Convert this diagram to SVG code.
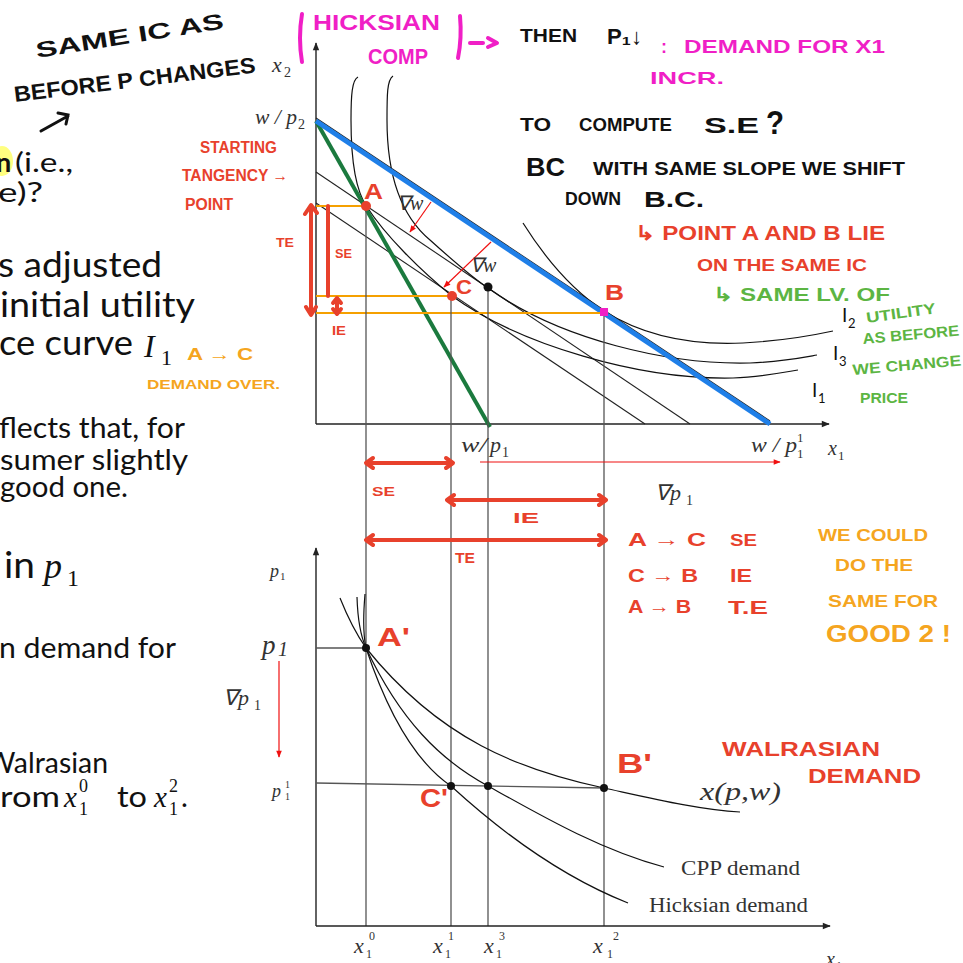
<svg xmlns="http://www.w3.org/2000/svg" width="963" height="963" viewBox="0 0 963 963">
<defs>
<marker id="ax" viewBox="0 0 10 10" refX="9" refY="5" markerWidth="9" markerHeight="8" orient="auto" markerUnits="userSpaceOnUse"><path d="M0,1 L10,5 L0,9 z" fill="#222"/></marker>
<marker id="ra" viewBox="0 0 10 10" refX="9" refY="5" markerWidth="8" markerHeight="7" orient="auto" markerUnits="userSpaceOnUse"><path d="M0,1 L10,5 L0,9 z" fill="#f01010"/></marker>
<style>
.slide{font-family:Lato,"Open Sans","Liberation Sans",sans-serif;fill:#111}
.m{font-family:"Liberation Serif","Times New Roman",serif;font-style:italic;fill:#333}
.mu{font-family:"Liberation Serif","Times New Roman",serif;fill:#333}
.hw{font-family:"Liberation Sans",Arial,sans-serif;font-weight:bold}
.k{fill:#111}.r{fill:#e8412c}.g{fill:#5cb543}.o{fill:#f5a520}.mg{fill:#f01fc6}
.axis{stroke:#222;stroke-width:1.4;fill:none}
.drop{stroke:#555;stroke-width:1.3;fill:none}
.bl{stroke:#222;stroke-width:1.1;fill:none}
.cv{stroke:#111;stroke-width:1.2;fill:none}
.or{stroke:#f5a000;stroke-width:2;fill:none}
.rs{stroke:#e8412c;stroke-width:4;fill:none;stroke-linecap:round;stroke-linejoin:round}
.ms{stroke:#f01fc6;stroke-width:4;fill:none;stroke-linecap:round;stroke-linejoin:round}
.thin-red{stroke:#f01010;stroke-width:1.2;fill:none}
</style>
</defs>
<rect width="963" height="963" fill="#fff"/>

<g id="slide-text">
<ellipse cx="2" cy="161" rx="11" ry="15" fill="#ffff80"/>
<text class="slide" x="-4" y="172" font-size="27" font-weight="bold">n</text>
<text class="slide" x="15" y="172" font-size="27" textLength="58" lengthAdjust="spacingAndGlyphs">(i.e.,</text>
<text class="slide" x="-2" y="202" font-size="27" textLength="45" lengthAdjust="spacingAndGlyphs">e)?</text>
<text class="slide" x="-2" y="277" font-size="35" textLength="164" lengthAdjust="spacingAndGlyphs">s adjusted</text>
<text class="slide" x="0" y="317" font-size="35" textLength="195" lengthAdjust="spacingAndGlyphs">initial utility</text>
<text class="slide" x="-1" y="355" font-size="35" textLength="134" lengthAdjust="spacingAndGlyphs">ce curve</text>
<text x="144" y="357" font-size="32" font-family="Liberation Serif,serif" font-style="italic" fill="#111">I</text>
<text x="161" y="365" font-size="22" font-family="Liberation Serif,serif" fill="#111">1</text>
<text class="slide" x="-1" y="438" font-size="29" textLength="186" lengthAdjust="spacingAndGlyphs">flects that, for</text>
<text class="slide" x="0" y="470" font-size="29" textLength="188" lengthAdjust="spacingAndGlyphs">sumer slightly</text>
<text class="slide" x="0" y="497" font-size="29" textLength="128" lengthAdjust="spacingAndGlyphs">good one.</text>
<text class="slide" x="4" y="578" font-size="36" textLength="31" lengthAdjust="spacingAndGlyphs">in</text>
<text x="44" y="578" font-size="36" font-family="Liberation Serif,serif" font-style="italic" fill="#111">p</text>
<text x="67" y="586" font-size="24" font-family="Liberation Serif,serif" fill="#111">1</text>
<text class="slide" x="-1" y="658" font-size="29" textLength="177" lengthAdjust="spacingAndGlyphs">n demand for</text>
<text class="slide" x="-14" y="773" font-size="29" textLength="122" lengthAdjust="spacingAndGlyphs">Walrasian</text>
<text class="slide" x="0" y="807" font-size="29" textLength="60" lengthAdjust="spacingAndGlyphs">rom</text>
<text x="64" y="807" font-size="29" font-family="Liberation Serif,serif" font-style="italic" fill="#111">x</text>
<text x="79" y="815" font-size="18" font-family="Liberation Serif,serif" fill="#111">1</text>
<text x="79" y="792" font-size="18" font-family="Liberation Serif,serif" fill="#111">0</text>
<text class="slide" x="117" y="807" font-size="29" textLength="30" lengthAdjust="spacingAndGlyphs">to</text>
<text x="154" y="807" font-size="29" font-family="Liberation Serif,serif" font-style="italic" fill="#111">x</text>
<text x="169" y="815" font-size="18" font-family="Liberation Serif,serif" fill="#111">1</text>
<text x="169" y="792" font-size="18" font-family="Liberation Serif,serif" fill="#111">2</text>
<text class="slide" x="181" y="807" font-size="29">.</text>
</g>

<g id="top-graph">
<line class="axis" x1="316" y1="424" x2="316" y2="43" marker-end="url(#ax)"/>
<line class="axis" x1="316" y1="424" x2="829" y2="424" marker-end="url(#ax)"/>
<line class="bl" x1="316" y1="172" x2="690" y2="424"/>
<line class="bl" x1="316" y1="203" x2="645" y2="424"/>
<line class="bl" x1="316" y1="118" x2="770" y2="421"/>
<path id="ic-a" class="cv" d="M358,77 C352,80 351,95 351,120 C351,160 355,190 367,207 C385,235 420,270 452,296 C520,345 640,380 733,378 C760,377 780,373 798,370"/>
<path id="ic-b" class="cv" d="M393,76 C387,80 387,95 387,120 C387,175 400,215 430,240 C450,258 470,276 488,288 C560,340 670,365 750,363 C780,362 800,358 817,355"/>
<path id="ic-c" class="cv" d="M523,223 C545,258 572,290 604,311 C650,340 700,345 743,343 C780,341 810,336 833,331"/>
<line x1="316" y1="121" x2="490" y2="427" stroke="#1b7a3e" stroke-width="4"/>
<line x1="316" y1="121" x2="770" y2="424" stroke="#1f7fe8" stroke-width="5"/>
<line class="or" x1="316" y1="206" x2="366" y2="206"/>
<line class="or" x1="316" y1="296" x2="452" y2="296"/>
<line class="or" x1="316" y1="313" x2="604" y2="313"/>
<line class="drop" x1="366" y1="206" x2="366" y2="926"/>
<line class="drop" x1="451" y1="296" x2="451" y2="926"/>
<line class="drop" x1="488" y1="287" x2="488" y2="926"/>
<line class="drop" x1="604" y1="312" x2="604" y2="926"/>
<line class="thin-red" x1="431" y1="202" x2="410" y2="232" marker-end="url(#ra)"/>
<line class="thin-red" x1="491" y1="242" x2="444" y2="287" marker-end="url(#ra)"/>
<line class="thin-red" x1="480" y1="462" x2="780" y2="462" marker-end="url(#ra)"/>
<circle cx="366" cy="206" r="5" fill="#e8412c"/>
<circle cx="452" cy="296" r="5" fill="#e8412c"/>
<circle cx="488" cy="287" r="4.5" fill="#111"/>
<rect x="600" y="308" width="8" height="8" fill="#f01fc6"/>
<text class="m" x="272" y="72" font-size="22">x</text><text class="mu" x="284" y="77" font-size="14">2</text>
<text class="m" x="255" y="124" font-size="20" textLength="42" lengthAdjust="spacingAndGlyphs">w / p</text><text class="mu" x="298" y="129" font-size="14">2</text>
<text class="m" x="397" y="210" font-size="20" fill="#555">∇w</text>
<text class="m" x="470" y="272" font-size="20" fill="#555">∇w</text>
<text class="m" x="461" y="452" font-size="22" textLength="26" lengthAdjust="spacingAndGlyphs">w/</text>
<text class="m" x="490" y="452" font-size="22">p</text><text class="mu" x="502" y="457" font-size="14">1</text>
<text class="m" x="751" y="452" font-size="21" textLength="46" lengthAdjust="spacingAndGlyphs">w / p</text><text class="mu" x="797" y="458" font-size="13">1</text><text class="mu" x="797" y="442" font-size="13">1</text>
<text class="m" x="828" y="455" font-size="20">x</text><text class="mu" x="838" y="460" font-size="13">1</text>
<text class="m" x="655" y="500" font-size="22">∇p</text><text class="mu" x="686" y="505" font-size="14">1</text>
<text class="slide" x="842" y="322" font-size="19">I</text><text class="slide" x="848" y="328" font-size="13">2</text>
<text class="slide" x="833" y="360" font-size="19">I</text><text class="slide" x="839" y="366" font-size="13">3</text>
<text class="slide" x="812" y="397" font-size="19">I</text><text class="slide" x="818" y="403" font-size="13">1</text>
</g>

<g id="bottom-graph">
<line class="axis" x1="316" y1="926" x2="316" y2="548" marker-end="url(#ax)"/>
<line class="axis" x1="316" y1="926" x2="830" y2="926" marker-end="url(#ax)"/>
<line class="drop" x1="316" y1="648" x2="366" y2="648"/>
<line class="drop" x1="316" y1="783" x2="604" y2="788"/>
<path id="walrasian" class="cv" d="M340,598 Q352,628 366,648 C440,740 520,770 604,788 C650,798 700,810 740,812"/>
<path id="cpp" class="cv" d="M357,597 Q358,630 366,648 C400,720 440,760 488,786 C540,815 600,850 664,867"/>
<path id="hicksian" class="cv" d="M365,594 Q362,630 366,648 C390,720 420,765 451,786 C510,840 570,880 628,903"/>
<circle cx="366" cy="648" r="4" fill="#111"/>
<circle cx="451" cy="786" r="4" fill="#111"/>
<circle cx="488" cy="786" r="4" fill="#111"/>
<circle cx="604" cy="788" r="4" fill="#111"/>
<line class="thin-red" x1="279" y1="661" x2="279" y2="757" marker-end="url(#ra)"/>
<text class="m" x="270" y="577" font-size="18">p</text><text class="mu" x="280" y="580" font-size="11">1</text>
<text class="m" x="262" y="654" font-size="27">p</text><text class="m" x="278" y="656" font-size="20">1</text>
<text class="m" x="223" y="705" font-size="22">∇p</text><text class="mu" x="254" y="710" font-size="14">1</text>
<text class="m" x="272" y="797" font-size="18" fill="#666">p</text><text class="mu" x="285" y="800" font-size="10" fill="#666">1</text><text class="mu" x="285" y="788" font-size="10" fill="#666">1</text>
<text class="m" x="700" y="800" font-size="26" textLength="81" lengthAdjust="spacingAndGlyphs">x(p,w)</text>
<text class="mu" x="681" y="875" font-size="20" textLength="119" lengthAdjust="spacingAndGlyphs">CPP demand</text>
<text class="mu" x="649" y="912" font-size="20" textLength="159" lengthAdjust="spacingAndGlyphs">Hicksian demand</text>
<text class="m" x="354" y="953" font-size="22">x</text><text class="mu" x="366" y="958" font-size="12">1</text><text class="mu" x="369" y="940" font-size="12">0</text>
<text class="m" x="433" y="953" font-size="22">x</text><text class="mu" x="445" y="958" font-size="12">1</text><text class="mu" x="448" y="940" font-size="12">1</text>
<text class="m" x="484" y="953" font-size="22">x</text><text class="mu" x="496" y="958" font-size="12">1</text><text class="mu" x="499" y="940" font-size="12">3</text>
<text class="m" x="593" y="953" font-size="22">x</text><text class="mu" x="607" y="958" font-size="12">1</text><text class="mu" x="613" y="940" font-size="12">2</text>
<text class="m" x="826" y="966" font-size="20">x</text><text class="mu" x="836" y="970" font-size="12">1</text>
</g>

<g id="annotations">
<text class="hw k" x="37" y="58" font-size="22" textLength="190" lengthAdjust="spacingAndGlyphs" transform="rotate(-9 37 58)">SAME IC AS</text>
<text class="hw k" x="15" y="102" font-size="22" textLength="243" lengthAdjust="spacingAndGlyphs" transform="rotate(-7 15 102)">BEFORE P CHANGES</text>
<path d="M41,131 L68,116 M58,113 L68,115 L66,124" stroke="#111" stroke-width="3" fill="none" stroke-linecap="round"/>
<path class="ms" d="M302,14 Q298,38 302,62"/>
<path class="ms" d="M460,16 Q462,38 458,58"/>
<path class="ms" d="M470,43 L483,43 M488,38 L497,43 L488,47" stroke-width="3"/>
<text class="hw mg" x="313" y="30" font-size="22" textLength="127" lengthAdjust="spacingAndGlyphs">HICKSIAN</text>
<text class="hw mg" x="368" y="64" font-size="22" textLength="60" lengthAdjust="spacingAndGlyphs">COMP</text>
<text class="hw k" x="520" y="42" font-size="18" textLength="57" lengthAdjust="spacingAndGlyphs">THEN</text>
<text class="hw k" x="607" y="44" font-size="22" textLength="35" lengthAdjust="spacingAndGlyphs">P₁↓</text>
<text class="hw mg" x="661" y="53" font-size="18">:</text>
<text class="hw mg" x="684" y="53" font-size="18" textLength="201" lengthAdjust="spacingAndGlyphs">DEMAND FOR X1</text>
<text class="hw mg" x="650" y="84" font-size="17" textLength="74" lengthAdjust="spacingAndGlyphs">INCR.</text>
<text class="hw k" x="520" y="131" font-size="18" textLength="31" lengthAdjust="spacingAndGlyphs">TO</text>
<text class="hw k" x="579" y="131" font-size="18" textLength="93" lengthAdjust="spacingAndGlyphs">COMPUTE</text>
<text class="hw k" x="704" y="133" font-size="22" textLength="55" lengthAdjust="spacingAndGlyphs">S.E</text>
<text class="hw k" x="766" y="134" font-size="34" textLength="18" lengthAdjust="spacingAndGlyphs">?</text>
<text class="hw k" x="526" y="176" font-size="26" textLength="39" lengthAdjust="spacingAndGlyphs">BC</text>
<text class="hw k" x="593" y="175" font-size="18" textLength="312" lengthAdjust="spacingAndGlyphs">WITH SAME SLOPE WE SHIFT</text>
<text class="hw k" x="565" y="205" font-size="18" textLength="56" lengthAdjust="spacingAndGlyphs">DOWN</text>
<text class="hw k" x="644" y="207" font-size="22" textLength="60" lengthAdjust="spacingAndGlyphs">B.C.</text>
<text class="hw r" x="200" y="153" font-size="16" textLength="77" lengthAdjust="spacingAndGlyphs">STARTING</text>
<text class="hw r" x="182" y="181" font-size="16" textLength="106" lengthAdjust="spacingAndGlyphs">TANGENCY →</text>
<text class="hw r" x="185" y="210" font-size="16" textLength="48" lengthAdjust="spacingAndGlyphs">POINT</text>
<text class="hw r" x="635" y="240" font-size="20" textLength="250" lengthAdjust="spacingAndGlyphs">↳ POINT A AND B LIE</text>
<text class="hw r" x="697" y="271" font-size="17" textLength="170" lengthAdjust="spacingAndGlyphs">ON THE SAME IC</text>
<text class="hw g" x="713" y="301" font-size="19" textLength="177" lengthAdjust="spacingAndGlyphs">↳ SAME LV. OF</text>
<text class="hw g" x="867" y="323" font-size="15" textLength="70" lengthAdjust="spacingAndGlyphs" transform="rotate(-8 867 323)">UTILITY</text>
<text class="hw g" x="863" y="344" font-size="15" textLength="97" lengthAdjust="spacingAndGlyphs" transform="rotate(-5 863 344)">AS BEFORE</text>
<text class="hw g" x="853" y="375" font-size="15" textLength="109" lengthAdjust="spacingAndGlyphs" transform="rotate(-5 853 375)">WE CHANGE</text>
<text class="hw g" x="860" y="403" font-size="15" textLength="48" lengthAdjust="spacingAndGlyphs">PRICE</text>
<text class="hw o" x="187" y="360" font-size="17" textLength="66" lengthAdjust="spacingAndGlyphs">A → C</text>
<text class="hw o" x="147" y="389" font-size="13" textLength="133" lengthAdjust="spacingAndGlyphs">DEMAND OVER.</text>
<text class="hw o" x="818" y="541" font-size="17" textLength="110" lengthAdjust="spacingAndGlyphs">WE COULD</text>
<text class="hw o" x="835" y="571" font-size="16" textLength="78" lengthAdjust="spacingAndGlyphs">DO THE</text>
<text class="hw o" x="828" y="607" font-size="17" textLength="110" lengthAdjust="spacingAndGlyphs">SAME FOR</text>
<text class="hw o" x="826" y="642" font-size="24" textLength="125" lengthAdjust="spacingAndGlyphs">GOOD 2 !</text>
<text class="hw r" x="628" y="546" font-size="19" textLength="78" lengthAdjust="spacingAndGlyphs">A → C</text>
<text class="hw r" x="730" y="546" font-size="17" textLength="27" lengthAdjust="spacingAndGlyphs">SE</text>
<text class="hw r" x="628" y="582" font-size="19" textLength="70" lengthAdjust="spacingAndGlyphs">C → B</text>
<text class="hw r" x="730" y="582" font-size="19" textLength="22" lengthAdjust="spacingAndGlyphs">IE</text>
<text class="hw r" x="628" y="613" font-size="19" textLength="63" lengthAdjust="spacingAndGlyphs">A → B</text>
<text class="hw r" x="728" y="614" font-size="19" textLength="40" lengthAdjust="spacingAndGlyphs">T.E</text>
<text class="hw r" x="722" y="756" font-size="20" textLength="158" lengthAdjust="spacingAndGlyphs">WALRASIAN</text>
<text class="hw r" x="808" y="783" font-size="20" textLength="113" lengthAdjust="spacingAndGlyphs">DEMAND</text>
<text class="hw r" x="377" y="646" font-size="26" textLength="33" lengthAdjust="spacingAndGlyphs">A'</text>
<text class="hw r" x="420" y="807" font-size="26" textLength="28" lengthAdjust="spacingAndGlyphs">C'</text>
<text class="hw r" x="617" y="773" font-size="28" textLength="35" lengthAdjust="spacingAndGlyphs">B'</text>
<text class="hw r" x="364" y="199" font-size="22" textLength="19" lengthAdjust="spacingAndGlyphs">A</text>
<text class="hw r" x="456" y="294" font-size="20" textLength="16" lengthAdjust="spacingAndGlyphs">C</text>
<text class="hw r" x="605" y="300" font-size="22" textLength="19" lengthAdjust="spacingAndGlyphs">B</text>
<text class="hw r" x="276" y="247" font-size="13" textLength="18" lengthAdjust="spacingAndGlyphs">TE</text>
<text class="hw r" x="335" y="258" font-size="13" textLength="17" lengthAdjust="spacingAndGlyphs">SE</text>
<text class="hw r" x="332" y="335" font-size="12" textLength="14" lengthAdjust="spacingAndGlyphs">IE</text>
<text class="hw r" x="372" y="496" font-size="13" textLength="23" lengthAdjust="spacingAndGlyphs">SE</text>
<text class="hw r" x="513" y="523" font-size="14" textLength="26" lengthAdjust="spacingAndGlyphs">IE</text>
<text class="hw r" x="455" y="563" font-size="14" textLength="20" lengthAdjust="spacingAndGlyphs">TE</text>
<path class="rs" d="M311,206 L311,314 M305,214 L311,205 L317,213 M306,307 L311,315 L316,307"/>
<path class="rs" d="M328,206 L328,296"/>
<path class="rs" d="M337,299 L337,313 M333,303 L337,298 L341,303 M333,309 L337,314 L341,309" stroke-width="3"/>
<path class="rs" d="M366,463 L453,463 M373,458 L366,463 L373,468 M446,458 L453,463 L446,468"/>
<path class="rs" d="M447,500 L606,500 M454,495 L447,500 L454,505 M599,495 L606,500 L599,505"/>
<path class="rs" d="M366,540 L606,540 M373,535 L366,540 L373,545 M599,535 L606,540 L599,545"/>
</g>
</svg>
